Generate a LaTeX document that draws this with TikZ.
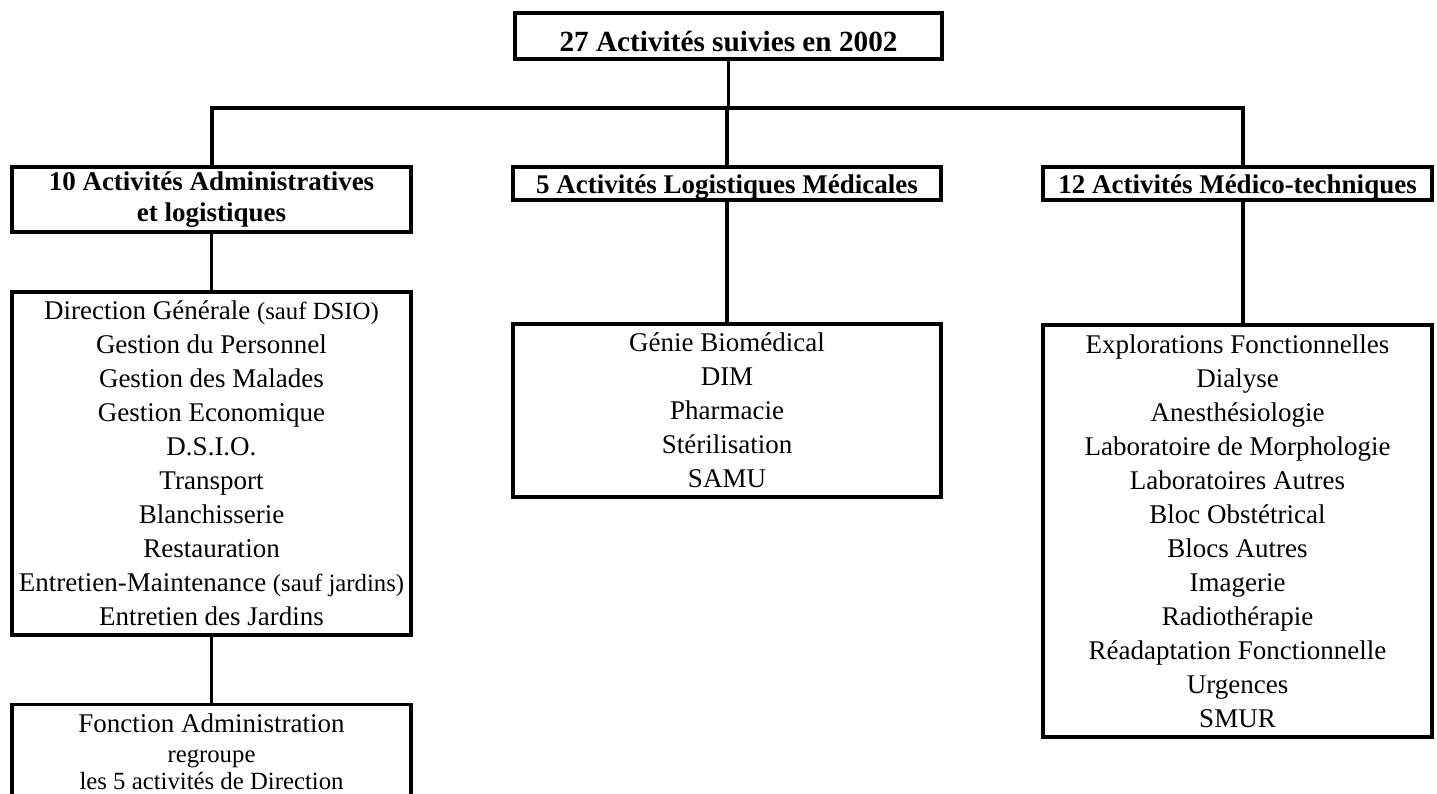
\documentclass[tikz,border=0pt]{standalone}
\usepackage{fontspec}
\setmainfont{Liberation Serif}
\usepackage{tikz}
\usetikzlibrary{calc}

\newcommand{\textefnt}{\fontsize{12}{15.1}\selectfont}
\newcommand{\petitfnt}{\fontsize{11}{12.5}\selectfont}
\newcommand{\titrefnt}{\fontsize{12}{13.8}\selectfont\bfseries}

\tikzset{
  boite/.style={draw, line width=1.4pt, rectangle, align=center, inner sep=0pt},
  lien/.style={line width=1.5pt},
}

\begin{document}
\begin{tikzpicture}[x=0.4444pt, y=-0.4444pt]
                        \useasboundingbox (0,0) rectangle (1437,794);
                        \clip (0,0) rectangle (1437,794);

                        % Drawing box total
                        \node [boite, minimum width=189.8pt, minimum height=20.4pt, text height=14.2pt, text depth=0pt, font=\fontsize{13}{15}\selectfont\bfseries] (total) at (728.5,36) {27 Activités suivies en 2002};

                        % Drawing the three headers
                        \node [boite, minimum width=177.3pt, minimum height=28.9pt, font=\titrefnt] (adm) at (211.5,199.5) {10 Activités Administratives\\et logistiques};
                        \node [boite, minimum width=190.2pt, minimum height=14.7pt, text height=9.5pt, text depth=1pt, font=\titrefnt] (logmed) at (727,183.5) {5 Activités Logistiques Médicales};
                        \node [boite, minimum width=172.9pt, minimum height=14.7pt, text height=9.5pt, text depth=1pt, font=\titrefnt] (medtech) at (1237.5,183.5) {12 Activités Médico-techniques};

                        % Drawing the lists
                        \node [boite, minimum width=177.3pt, minimum height=152.4pt, font=\textefnt] (admliste) at (211.5,463.5) {Direction Générale {\petitfnt (sauf DSIO)}\\Gestion du Personnel\\Gestion des Malades\\Gestion Economique\\D.S.I.O.\\Transport\\Blanchisserie\\Restauration\\Entretien-Maintenance {\petitfnt (sauf jardins)}\\Entretien des Jardins};
                        \node [boite, minimum width=190.2pt, minimum height=76.9pt, font=\textefnt] (logmedliste) at (727,410.5) {Génie Biomédical\\DIM\\Pharmacie\\Stérilisation\\SAMU};
                        \node [boite, minimum width=172.9pt, minimum height=183.1pt, font=\textefnt] (medtechliste) at (1237.5,531) {Explorations Fonctionnelles\\Dialyse\\Anesthésiologie\\Laboratoire de Morphologie\\Laboratoires Autres\\Bloc Obstétrical\\Blocs Autres\\Imagerie\\Radiothérapie\\Réadaptation Fonctionnelle\\Urgences\\SMUR};

                        % Drawing box fonction (cut by the page)
                        \node [boite, minimum width=177.3pt, inner ysep=4pt, anchor=north, font=\textefnt] (admfonction) at (211.5,703) {Fonction Administration\\[-1.8pt]{\petitfnt regroupe}\\[-3.2pt]{\petitfnt les 5 activités de Direction}};

                        % Drawing bar
                        \coordinate (barre) at (728,108);
                        \coordinate (barreG) at (212,108);
                        \coordinate (barreD) at (1243,108);
                        \draw [lien] (total.south) -- (total.south |- barre);
                        \draw [lien] (barreG |- adm.north) -- (barreG) -- (barreD) -- (barreD |- medtech.north);
                        \draw [lien] (logmed.north) -- (logmed.north |- barre);

                        % Drawing links to lists
                        \draw [lien] (adm.south) -- (admliste.north);
                        \draw [lien] (logmed.south) -- (logmedliste.north);
                        \draw [lien] (barreD |- medtech.south) -- (barreD |- medtechliste.north);
                        \draw [lien] (admliste.south) -- (admfonction.north);
                    \end{tikzpicture}
\end{document}
